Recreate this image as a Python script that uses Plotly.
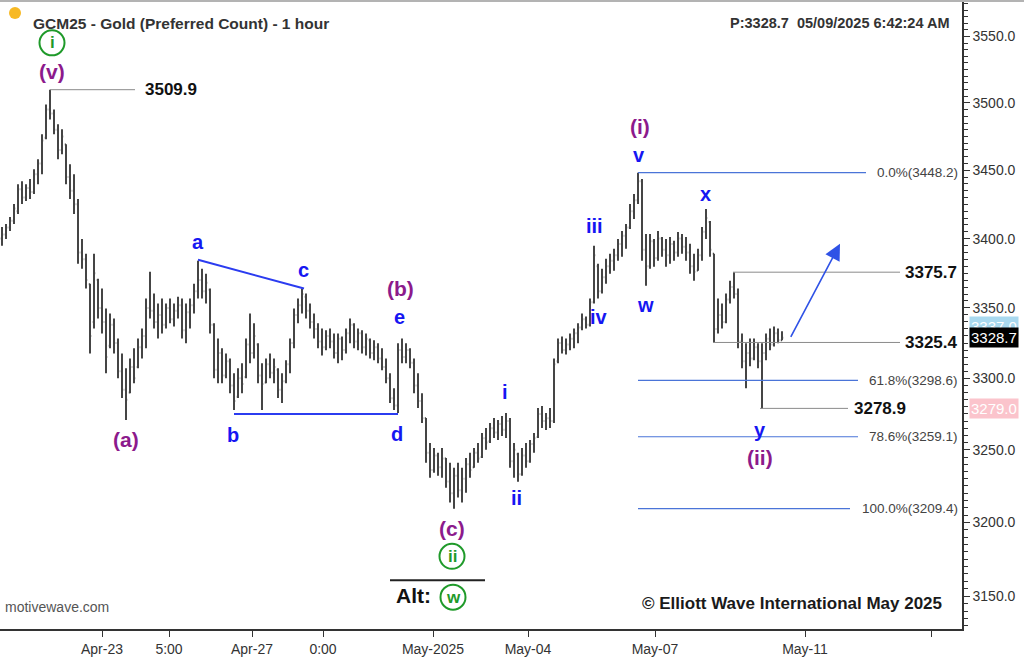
import math
import plotly.graph_objects as go

# ---------------- data: hourly GCM25 bars (index 0..195) ----------------
opens = [
    3400, 3403, 3408, 3413, 3420, 3436, 3430, 3437, 3434, 3447,
    3455, 3474, 3495, 3492, 3480, 3465, 3469, 3445, 3435, 3425,
    3390, 3385, 3367, 3340, 3370, 3350, 3340, 3323, 3338, 3325,
    3305, 3292, 3290, 3308, 3308, 3322, 3330, 3350, 3348, 3340,
    3345, 3338, 3350, 3342, 3348, 3352, 3334, 3347, 3352, 3362,
    3370, 3362, 3363, 3338, 3306, 3318, 3302, 3312, 3295, 3287,
    3300, 3301, 3324, 3318, 3324, 3302, 3297, 3310, 3304, 3306,
    3292, 3298, 3310, 3325, 3345, 3352, 3358, 3348, 3340, 3335,
    3326, 3322, 3330, 3326, 3318, 3328, 3320, 3332, 3338, 3326,
    3332, 3322, 3327, 3318, 3322, 3314, 3308, 3300, 3286, 3281,
    3320, 3315, 3320, 3311, 3295, 3284, 3272, 3248, 3236, 3246,
    3238, 3244, 3228, 3220, 3232, 3222, 3230, 3240, 3238, 3248,
    3245, 3258, 3256, 3265, 3262, 3268, 3264, 3270, 3242, 3247,
    3233, 3246, 3242, 3254, 3259, 3275, 3270, 3272, 3270, 3312,
    3325, 3320, 3324, 3328, 3332, 3336, 3342, 3338, 3354, 3380,
    3362, 3372, 3380, 3384, 3388, 3396, 3402, 3408, 3420, 3428,
    3442, 3392, 3380, 3398, 3386, 3400, 3392, 3388, 3396, 3390,
    3400, 3394, 3390, 3380, 3377, 3388, 3405, 3412, 3389, 3335,
    3345, 3340, 3356, 3365, 3360, 3326, 3312, 3318, 3314, 3322,
    3312, 3318, 3328, 3324, 3332, 3327]

highs = [
    3408.5, 3410.7, 3415.8, 3425.2, 3439.8, 3442.0, 3439.8, 3443.5, 3450.8, 3458.1,
    3476.6, 3498.8, 3509.9, 3495.1, 3484.0, 3480.3, 3469.2, 3454.4, 3447.1, 3428.9,
    3399.8, 3389.0, 3367.4, 3389.0, 3371.0, 3363.9, 3349.6, 3346.0, 3342.5, 3328.3,
    3317.6, 3307.1, 3314.1, 3321.2, 3328.3, 3335.4, 3356.7, 3376.0, 3360.3, 3353.2,
    3356.7, 3353.2, 3356.7, 3353.2, 3358.1, 3356.7, 3353.2, 3356.7, 3367.4, 3384.0,
    3378.2, 3374.6, 3363.9, 3339.0, 3328.3, 3321.2, 3317.6, 3314.1, 3303.6, 3307.1,
    3310.6, 3328.3, 3346.0, 3339.0, 3324.8, 3310.6, 3314.1, 3317.6, 3314.1, 3307.1,
    3303.6, 3312.7, 3328.3, 3349.6, 3356.7, 3363.9, 3360.3, 3353.2, 3346.0, 3339.0,
    3335.4, 3334.0, 3335.4, 3331.8, 3331.8, 3329.7, 3335.4, 3342.5, 3339.0, 3335.4,
    3334.0, 3331.8, 3328.3, 3326.9, 3324.8, 3321.2, 3314.1, 3303.6, 3293.1, 3324.8,
    3328.3, 3324.8, 3321.2, 3314.1, 3303.6, 3289.6, 3272.1, 3254.8, 3251.3, 3247.9,
    3251.3, 3244.4, 3241.0, 3237.5, 3241.0, 3237.5, 3244.4, 3247.9, 3251.3, 3254.8,
    3261.7, 3265.2, 3268.7, 3272.1, 3270.7, 3273.5, 3275.6, 3272.1, 3254.8, 3247.9,
    3251.3, 3254.8, 3256.8, 3261.7, 3279.1, 3280.5, 3275.6, 3279.1, 3314.1, 3328.3,
    3329.7, 3328.3, 3331.8, 3335.4, 3339.0, 3346.0, 3343.9, 3356.7, 3394.8, 3381.8,
    3378.2, 3385.4, 3389.0, 3392.6, 3399.8, 3405.6, 3410.7, 3425.2, 3432.5, 3448.2,
    3443.5, 3403.4, 3403.4, 3399.8, 3405.6, 3401.2, 3399.8, 3401.2, 3398.4, 3404.8,
    3403.4, 3401.2, 3396.2, 3389.0, 3392.6, 3408.5, 3421.6, 3412.8, 3389.0, 3356.7,
    3353.2, 3360.3, 3369.6, 3375.7, 3363.9, 3331.8, 3324.8, 3328.3, 3328.3, 3324.8,
    3324.8, 3331.8, 3335.4, 3336.8, 3335.4, 3333.3]

lows = [
    3394.8, 3399.8, 3405.6, 3410.7, 3417.9, 3425.2, 3427.4, 3428.9, 3432.5, 3439.8,
    3447.1, 3472.9, 3487.7, 3476.6, 3458.1, 3461.8, 3439.8, 3428.9, 3417.9, 3381.8,
    3378.2, 3363.9, 3317.6, 3335.4, 3342.5, 3331.8, 3303.6, 3321.2, 3317.6, 3300.1,
    3286.1, 3270.7, 3289.6, 3296.6, 3307.1, 3314.1, 3321.2, 3342.5, 3335.4, 3328.3,
    3331.8, 3335.4, 3339.0, 3336.8, 3342.5, 3328.3, 3324.8, 3335.4, 3346.0, 3356.7,
    3356.7, 3353.2, 3331.8, 3300.1, 3296.6, 3296.6, 3300.1, 3289.6, 3277.7, 3286.1,
    3289.6, 3300.1, 3310.6, 3314.1, 3296.6, 3277.7, 3296.6, 3300.1, 3296.6, 3286.1,
    3282.6, 3296.6, 3303.6, 3321.2, 3339.0, 3346.0, 3342.5, 3335.4, 3328.3, 3321.2,
    3316.2, 3319.8, 3321.2, 3314.1, 3310.6, 3312.7, 3317.6, 3324.8, 3321.2, 3319.8,
    3317.6, 3316.2, 3314.1, 3312.7, 3310.6, 3305.7, 3296.6, 3282.6, 3277.7, 3275.6,
    3310.6, 3310.6, 3307.1, 3289.6, 3279.1, 3268.7, 3241.0, 3230.6, 3234.1, 3232.0,
    3230.6, 3223.8, 3213.6, 3209.4, 3217.0, 3213.6, 3220.4, 3230.6, 3237.5, 3241.0,
    3244.4, 3250.0, 3254.8, 3258.2, 3256.8, 3259.6, 3258.2, 3237.5, 3230.6, 3227.9,
    3232.0, 3237.5, 3241.0, 3247.9, 3258.2, 3265.2, 3263.8, 3265.2, 3268.7, 3310.6,
    3317.6, 3316.9, 3319.8, 3321.2, 3324.8, 3334.0, 3335.4, 3336.8, 3353.2, 3356.7,
    3360.3, 3367.4, 3374.6, 3376.7, 3384.0, 3386.9, 3392.6, 3407.0, 3414.3, 3425.2,
    3384.0, 3366.0, 3378.2, 3379.6, 3384.0, 3386.9, 3379.6, 3381.8, 3384.0, 3386.9,
    3389.0, 3384.0, 3374.6, 3369.6, 3376.7, 3384.0, 3399.8, 3386.9, 3325.4, 3331.8,
    3335.4, 3339.0, 3353.2, 3356.7, 3321.2, 3307.1, 3293.1, 3308.5, 3312.7, 3307.1,
    3278.9, 3312.7, 3319.8, 3322.6, 3324.8, 3326.9]

closes = [
    3403, 3408, 3413, 3422, 3436, 3430, 3437, 3434, 3447, 3455,
    3472, 3495, 3492, 3480, 3465, 3475, 3445, 3435, 3425, 3390,
    3385, 3370, 3330, 3375, 3350, 3340, 3315, 3338, 3325, 3305,
    3292, 3285, 3308, 3300, 3322, 3330, 3350, 3348, 3340, 3345,
    3338, 3350, 3342, 3348, 3352, 3334, 3347, 3352, 3362, 3370,
    3362, 3368, 3338, 3306, 3318, 3302, 3312, 3295, 3284, 3300,
    3296, 3324, 3318, 3330, 3302, 3296, 3310, 3304, 3308, 3292,
    3298, 3310, 3325, 3345, 3352, 3360, 3348, 3340, 3335, 3326,
    3322, 3330, 3326, 3318, 3328, 3320, 3332, 3338, 3326, 3332,
    3322, 3328, 3318, 3322, 3314, 3308, 3300, 3286, 3281, 3320,
    3315, 3320, 3311, 3295, 3284, 3272, 3248, 3236, 3246, 3238,
    3244, 3228, 3220, 3232, 3222, 3230, 3240, 3236, 3248, 3244,
    3258, 3255, 3265, 3262, 3268, 3264, 3270, 3242, 3250, 3233,
    3246, 3242, 3254, 3258, 3275, 3270, 3272, 3270, 3310, 3325,
    3320, 3324, 3328, 3332, 3336, 3342, 3338, 3354, 3388, 3362,
    3372, 3380, 3384, 3388, 3396, 3402, 3408, 3420, 3428, 3442,
    3392, 3380, 3398, 3386, 3400, 3392, 3388, 3396, 3390, 3400,
    3394, 3390, 3380, 3376, 3388, 3405, 3415, 3392, 3335, 3345,
    3340, 3356, 3365, 3360, 3326, 3312, 3318, 3314, 3322, 3312,
    3318, 3328, 3324, 3332, 3327, 3328.7]

bar_index = list(range(len(closes)))

# x axis ticks (bar index positions) and labels
x_tick_vals = [25, 41.75, 62.5, 80.25, 107.75, 131.5, 163.25, 200.75, 232.25]
x_tick_text = ["Apr-23", "5:00", "Apr-27", "0:00", "May-2025", "May-04", "May-07", "May-11", ""]
y_tick_vals = [3150, 3200, 3250, 3300, 3350, 3400, 3450, 3500, 3550]

# key price levels: value, start bar, end bar, label bar
level_values = [3509.9, 3375.7, 3325.4, 3278.9]
level_from = [12, 182.75, 177.75, 189.5]
level_to = [33.25, 224.5, 224.5, 211.5]
level_text_at = [35.25, 225.25, 225.25, 212.5]

# Fibonacci retracement levels
fib_pcts = ["0.0%", "61.8%", "78.6%", "100.0%"]
fib_values = [3448.2, 3298.6, 3259.1, 3209.4]
fib_from = [159, 159, 159, 159]
fib_to = [216, 214, 214, 212]

# triangle boundary lines a-c and b-d
tri_x = [[49, 75.5], [58, 99]]
tri_y = [[3384.7, 3363.9], [3274.9, 3274.9]]

# wave labels (text, bar index, price)
blue_labels = [("a", 49, 3397.6), ("c", 75.25, 3377.5), ("e", 99.25, 3343.2),
               ("b", 57.75, 3260.3), ("d", 98.75, 3261.0), ("i", 125.75, 3290.2),
               ("ii", 128.5, 3217.0), ("iii", 148, 3409.0), ("iv", 149.3, 3343.2),
               ("v", 159.25, 3461.1), ("w", 160.75, 3352.4), ("x", 175.75, 3432.6),
               ("y", 189.5, 3263.8)]
purple_labels = [("(v)", 12.5, 3523.4), ("(a)", 31, 3257.5), ("(b)", 99.5, 3363.9),
                 ("(c)", 112.5, 3195.8), ("(i)", 159.5, 3482.5), ("(ii)", 189.5, 3244.4)]
green_circled = [("i", 12.5, 3545.2), ("ii", 112.5, 3176.9), ("w", 112.75, 3149.3)]

# projection arrow (from, to)
arrow_from = (197, 3328.3)
arrow_to = (209.5, 3396.2)

# right-hand price tags
tag_values = [3337.0, 3328.7, 3279.0]
tag_text = ["3337.0", "3328.7", "3279.0"]

FONT = "Liberation Sans, Arial, sans-serif"
BLUE = "#1616f2"
PURPLE = "#8c1a8c"
GREEN = "#1f9a2a"
FIB = "#4a74d8"
LG = math.log10

fig = go.Figure()

fig.add_trace(go.Ohlc(
    x=bar_index, open=opens, high=highs, low=lows, close=closes,
    increasing=dict(line=dict(color="#454545", width=2)),
    decreasing=dict(line=dict(color="#454545", width=2)),
    tickwidth=0.3, hoverinfo="skip", showlegend=False))

# level lines (gray)
for v, a, b in zip(level_values, level_from, level_to):
    fig.add_trace(go.Scatter(x=[a, b], y=[v, v], mode="lines",
                             line=dict(color="#8a8a8a", width=1), hoverinfo="skip",
                             showlegend=False))
# fib lines
for v, a, b in zip(fib_values, fib_from, fib_to):
    fig.add_trace(go.Scatter(x=[a, b], y=[v, v], mode="lines",
                             line=dict(color=FIB, width=1.2), hoverinfo="skip",
                             showlegend=False))
# triangle lines
for tx, ty in zip(tri_x, tri_y):
    fig.add_trace(go.Scatter(x=tx, y=ty, mode="lines",
                             line=dict(color="#2b3cf0", width=2), hoverinfo="skip",
                             showlegend=False))
# alt underline
fig.add_trace(go.Scatter(x=[97, 120.75], y=[3160.7, 3160.7], mode="lines",
                         line=dict(color="#222", width=2), hoverinfo="skip",
                         showlegend=False))
# circles for circled labels
fig.add_trace(go.Scatter(
    x=[g[1] for g in green_circled], y=[g[2] for g in green_circled], mode="markers",
    marker=dict(symbol="circle", size=25, color="white",
                line=dict(color=GREEN, width=2)),
    hoverinfo="skip", showlegend=False, cliponaxis=False))

# tag pointers (left-pointing tips of the right-hand price tags)
tag_bg = ["#a9d9ef", "#000000", "#fbc4cc"]
fig.add_trace(go.Scatter(
    x=[241.6] * len(tag_values), y=tag_values, mode="markers",
    marker=dict(symbol="triangle-left", size=11, color=tag_bg),
    hoverinfo="skip", showlegend=False, cliponaxis=False))

ann = []
for t, xi, p in blue_labels:
    ann.append(dict(x=xi, y=LG(p), xref="x", yref="y", text=f"<b>{t}</b>", showarrow=False,
                    font=dict(family=FONT, size=20, color=BLUE)))
for t, xi, p in purple_labels:
    ann.append(dict(x=xi, y=LG(p), xref="x", yref="y", text=f"<b>{t}</b>", showarrow=False,
                    font=dict(family=FONT, size=21, color=PURPLE)))
for t, xi, p in green_circled:
    ann.append(dict(x=xi, y=LG(p), xref="x", yref="y", text=f"<b>{t}</b>", showarrow=False,
                    font=dict(family=FONT, size=17, color=GREEN)))
ann.append(dict(x=102.75, y=LG(3150.6), xref="x", yref="y", text="<b>Alt:</b>",
                showarrow=False, font=dict(family=FONT, size=21, color="#111")))

for v, xt in zip(level_values, level_text_at):
    ann.append(dict(x=xt, y=LG(v), xref="x", yref="y", text=f"<b>{v:.1f}</b>",
                    xanchor="left", showarrow=False,
                    font=dict(family=FONT, size=17, color="#111")))
for pct, v in zip(fib_pcts, fib_values):
    ann.append(dict(x=239.6, y=LG(v), xref="x", yref="y", text=f"{pct}({v:.1f})",
                    xanchor="right", showarrow=False,
                    font=dict(family=FONT, size=13.5, color="#444")))

# projection arrow
ann.append(dict(x=arrow_to[0], y=LG(arrow_to[1]), ax=arrow_from[0], ay=LG(arrow_from[1]),
                xref="x", yref="y", axref="x", ayref="y", showarrow=True, text="",
                arrowhead=2, arrowsize=2, arrowwidth=1.6, arrowcolor="#2f52e6"))

# price tags on the right axis
for v, t, bg in zip(tag_values, tag_text, tag_bg):
    ann.append(dict(x=1.0, y=LG(v), xref="paper", yref="y", text=t, xanchor="left",
                    xshift=7, showarrow=False, bgcolor=bg, borderpad=1,
                    font=dict(family=FONT, size=15, color="white")))

# title / info texts
ann.append(dict(x=31 / 962, y=(632 - 13) / 630, xref="paper", yref="paper",
                text="<b>GCM25 - Gold (Preferred Count) - 1 hour</b>", xanchor="left",
                showarrow=False, font=dict(family=FONT, size=15.5, color="#333")))
ann.append(dict(x=952 / 962, y=(632 - 13) / 630, xref="paper", yref="paper",
                text="<b>P:3328.7\u00a0 05/09/2025 6:42:24 AM</b>", xanchor="right",
                showarrow=False, font=dict(family=FONT, size=14.5, color="#333")))
ann.append(dict(x=3 / 962, y=(632 - 620) / 630, xref="paper", yref="paper",
                text="motivewave.com", xanchor="left",
                showarrow=False, font=dict(family=FONT, size=14, color="#555")))
ann.append(dict(x=944 / 962, y=(632 - 618) / 630, xref="paper", yref="paper",
                text="<b>© Elliott Wave International May 2025</b>", xanchor="right",
                showarrow=False, font=dict(family=FONT, size=17, color="#1a1a1a")))

shapes = [
    dict(type="line", xref="paper", yref="paper", x0=0, x1=1.07, y0=1.0015, y1=1.0015,
         line=dict(color="#9a9a9a", width=1.5)),
    dict(type="circle", xref="paper", yref="paper",
         x0=9 / 962, x1=21 / 962, y0=(632 - 19) / 630, y1=(632 - 7) / 630,
         fillcolor="#f7b924", line=dict(width=0)),
]

fig.update_layout(
    width=1024, height=657,
    margin=dict(l=0, r=62, t=2, b=25),
    paper_bgcolor="white", plot_bgcolor="white",
    showlegend=False,
    annotations=ann, shapes=shapes,
    xaxis=dict(range=[-0.5, 240], showgrid=False, zeroline=False,
               rangeslider=dict(visible=False),
               tickmode="array", tickvals=x_tick_vals, ticktext=x_tick_text,
               ticks="outside", ticklen=6, tickcolor="#333", tickwidth=1,
               showline=True, linecolor="#333", linewidth=1.5,
               tickfont=dict(family=FONT, size=14, color="#333")),
    yaxis=dict(type="log", range=[3.49526, 3.55343], side="right",
               showgrid=False, zeroline=False,
               tickmode="array", tickvals=y_tick_vals, tickformat=".1f",
               ticks="outside", ticklen=6, tickcolor="#333", tickwidth=1,
               showline=True, linecolor="#333", linewidth=1.5,
               minor=dict(tickmode="linear", tick0=3100, dtick="L5", ticks="outside",
                          ticklen=4, tickcolor="#333"),
               tickfont=dict(family=FONT, size=14, color="#333")),
)

fig.write_html("out.html",
               config={"displayModeBar": False},
               post_script="document.body.style.margin='0px';document.body.style.overflow='hidden';")
